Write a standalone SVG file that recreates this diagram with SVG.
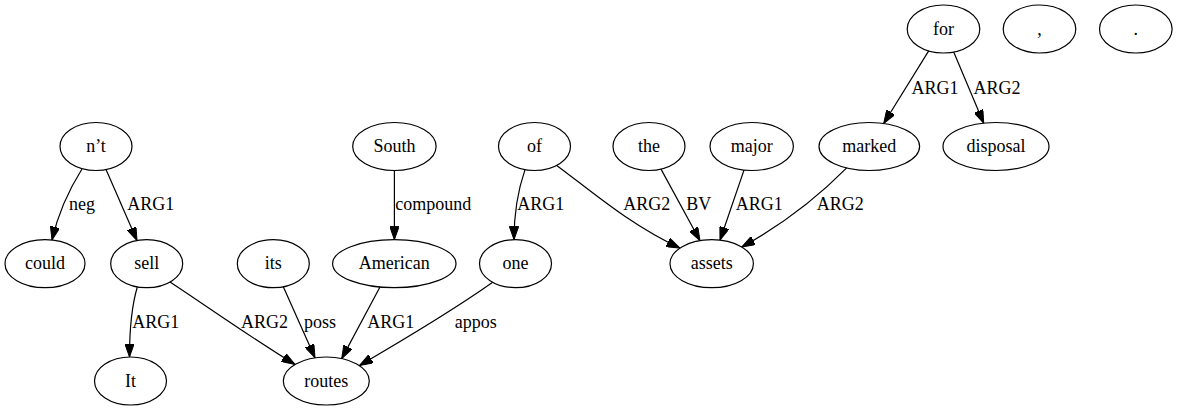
<svg xmlns="http://www.w3.org/2000/svg" width="1177" height="411" viewBox="0 0 1177 411">
<style>
.n ellipse{fill:none;stroke:#000;stroke-width:1.2}
text{font-family:"Liberation Serif","Times New Roman",serif;font-size:18px;fill:#000;text-anchor:middle}
.e path{fill:none;stroke:#000;stroke-width:1.2;marker-end:url(#ah)}
</style>
<defs>
<marker id="ah" markerUnits="userSpaceOnUse" viewBox="0 0 13.3 9.4" markerWidth="13.3" markerHeight="9.4" refX="13.3" refY="4.7" orient="auto">
<path d="M0,0 L13.3,4.7 L0,9.4 z" fill="#000" stroke="#000" stroke-width="1"/>
</marker>
</defs>
<rect width="1177" height="411" fill="#fff"/>
<g id="nodes">
<g id="n_for" class="n"><ellipse cx="943.5" cy="29" rx="36.3" ry="24"/><text x="943.5" y="34.7">for</text></g>
<g id="n_comma" class="n"><ellipse cx="1039.5" cy="29" rx="36.3" ry="24"/><text x="1039.5" y="34.7">,</text></g>
<g id="n_period" class="n"><ellipse cx="1135.8" cy="29" rx="36.3" ry="24"/><text x="1135.8" y="34.7">.</text></g>
<g id="n_nt" class="n"><ellipse cx="96" cy="146.5" rx="36" ry="24"/><text x="96" y="152.2">n’t</text></g>
<g id="n_South" class="n"><ellipse cx="394.4" cy="146.5" rx="41.7" ry="24"/><text x="394.4" y="152.2">South</text></g>
<g id="n_of" class="n"><ellipse cx="534.5" cy="146.5" rx="36" ry="24"/><text x="534.5" y="152.2">of</text></g>
<g id="n_the" class="n"><ellipse cx="649" cy="146.5" rx="36" ry="24"/><text x="649" y="152.2">the</text></g>
<g id="n_major" class="n"><ellipse cx="751.7" cy="146.5" rx="41.7" ry="24"/><text x="751.7" y="152.2">major</text></g>
<g id="n_marked" class="n"><ellipse cx="869.3" cy="146.5" rx="50.3" ry="24"/><text x="869.3" y="152.2">marked</text></g>
<g id="n_disposal" class="n"><ellipse cx="996" cy="146.5" rx="53" ry="24"/><text x="996" y="152.2">disposal</text></g>
<g id="n_could" class="n"><ellipse cx="45" cy="263.7" rx="40" ry="24"/><text x="45" y="269.4">could</text></g>
<g id="n_sell" class="n"><ellipse cx="146.7" cy="263.7" rx="36" ry="24"/><text x="146.7" y="269.4">sell</text></g>
<g id="n_its" class="n"><ellipse cx="273.3" cy="263.7" rx="36" ry="24"/><text x="273.3" y="269.4">its</text></g>
<g id="n_American" class="n"><ellipse cx="394.3" cy="263.7" rx="61.7" ry="24"/><text x="394.3" y="269.4">American</text></g>
<g id="n_one" class="n"><ellipse cx="515.5" cy="263.7" rx="36" ry="24"/><text x="515.5" y="269.4">one</text></g>
<g id="n_assets" class="n"><ellipse cx="711.7" cy="263.7" rx="41.7" ry="24"/><text x="711.7" y="269.4">assets</text></g>
<g id="n_It" class="n"><ellipse cx="130.5" cy="381" rx="36" ry="24"/><text x="130.5" y="386.7">It</text></g>
<g id="n_routes" class="n"><ellipse cx="326.3" cy="381" rx="43" ry="24"/><text x="326.3" y="386.7">routes</text></g>
</g>
<g id="edges" class="e">
<path d="M82,169 C70,188 58,214 52,240"/>
<path d="M106,169.5 L137,240.5"/>
<path d="M394.4,170.5 L394.4,239.7"/>
<path d="M137.3,287 C132,305 129.5,330 129.5,357"/>
<path d="M170,282 C205,305 250,337 295,364.5"/>
<path d="M283.3,286.7 L315,357.8"/>
<path d="M380,287 L341.7,358.6"/>
<path d="M492.7,282.3 C455,309 405,339 359.5,365.5"/>
<path d="M525,169.6 C518,190 514,212 514,239.7"/>
<path d="M556.7,165.4 C590,190 630,225 680,248"/>
<path d="M661,169.1 L700,240.7"/>
<path d="M744,170.1 L720,240.2"/>
<path d="M846.7,167.9 C815,200 780,226 741.7,247"/>
<path d="M928.7,50.9 L883.7,123.5"/>
<path d="M953.7,52 L983.7,123.2"/>
<g id="labels">
<text x="82" y="210">neg</text>
<text x="150.8" y="210">ARG1</text>
<text x="433.3" y="210">compound</text>
<text x="155.8" y="328.3">ARG1</text>
<text x="264.5" y="328.3">ARG2</text>
<text x="320" y="328.3">poss</text>
<text x="390.8" y="328.3">ARG1</text>
<text x="475.8" y="328.3">appos</text>
<text x="540.8" y="210">ARG1</text>
<text x="646.7" y="210">ARG2</text>
<text x="698.7" y="210">BV</text>
<text x="759.2" y="210">ARG1</text>
<text x="840.3" y="210">ARG2</text>
<text x="935" y="93.5">ARG1</text>
<text x="997" y="93.5">ARG2</text>
</g>
</g>
</svg>
